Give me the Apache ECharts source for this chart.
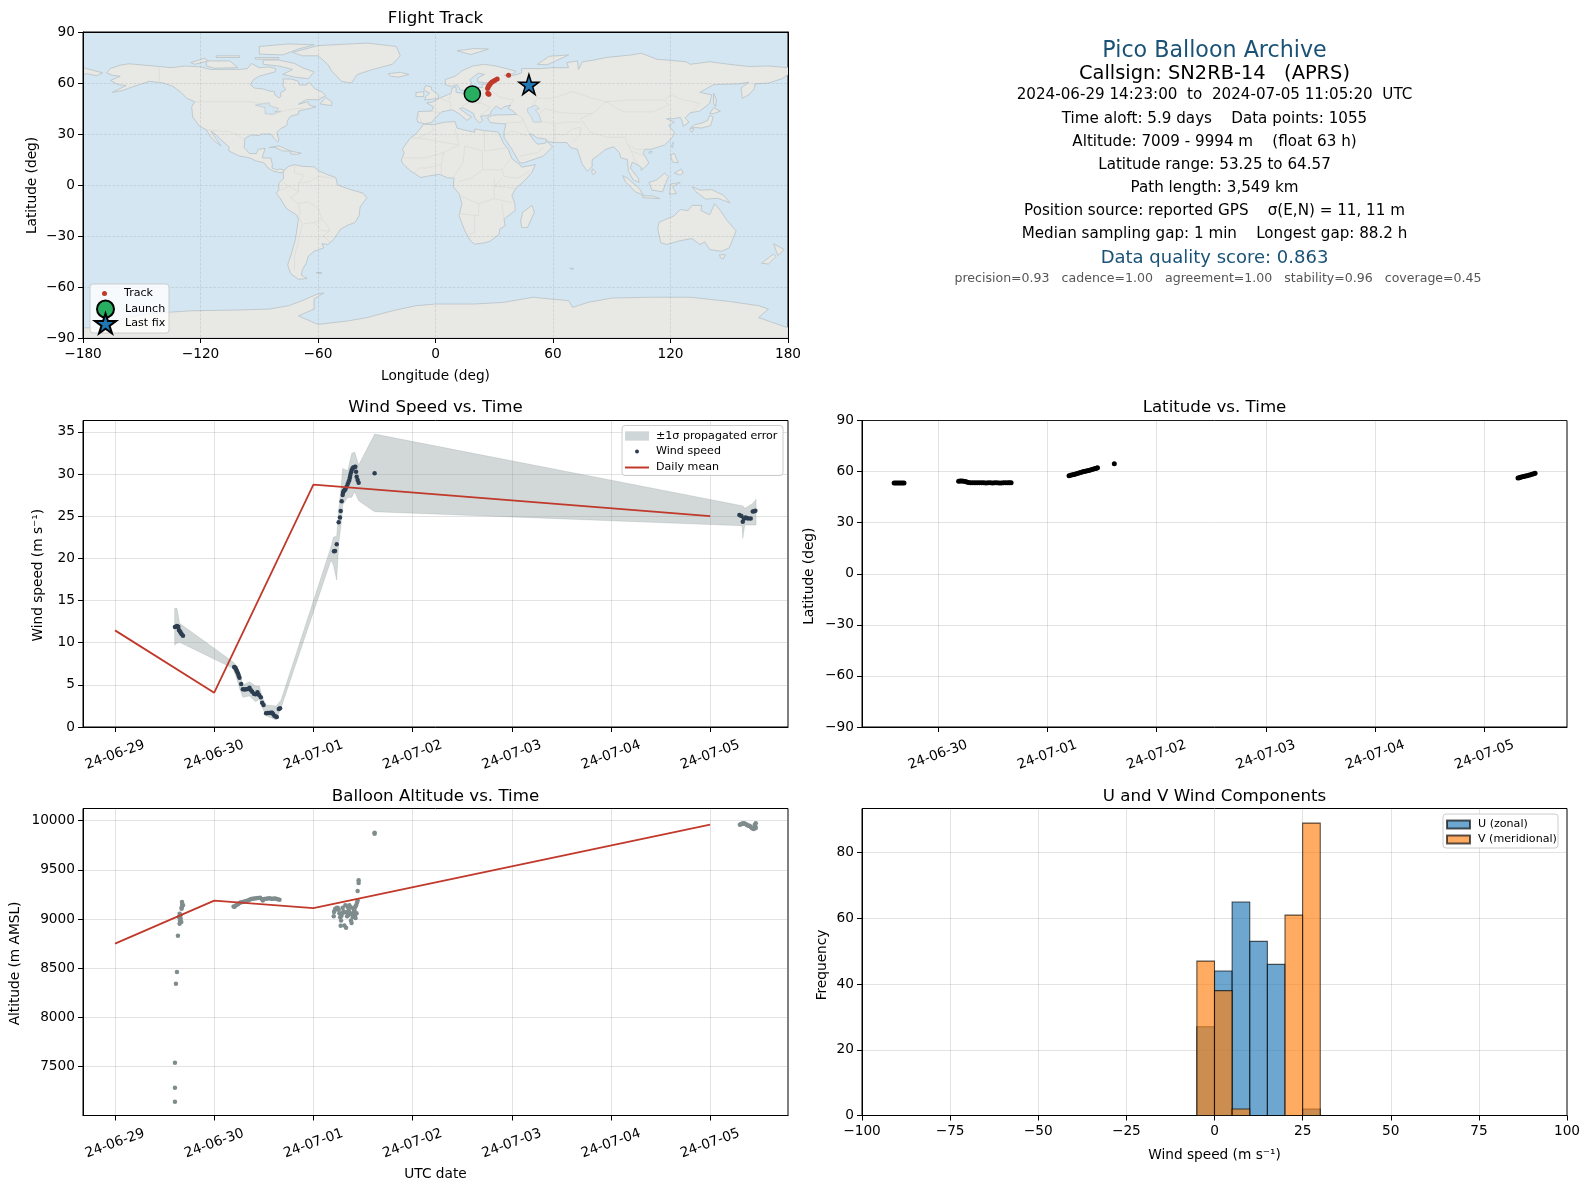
<!DOCTYPE html>
<html><head><meta charset="utf-8">
<style>html,body{margin:0;padding:0;background:#fff}#c{width:1590px;height:1189px}</style>
<script src="https://cdn.jsdelivr.net/npm/echarts@6/dist/echarts.min.js"></script>
</head><body><div id="c"></div>
<script>
// ---------- values ----------
const dayLabels = ['24-06-29','24-06-30','24-07-01','24-07-02','24-07-03','24-07-04','24-07-05'];
const dayTicks = [0,1,2,3,4,5,6];
const lonTicks = [-180,-120,-60,0,60,120,180];
const latTicks = [-90,-60,-30,0,30,60,90];
const windTicks = [0,5,10,15,20,25,30,35];
const altTicks = [7500,8000,8500,9000,9500,10000];
const histXTicks = [-100,-75,-50,-25,0,25,50,75,100];
const histYTicks = [0,20,40,60,80];

const trackPoints = [[27,53.5],[26.7,53.9],[27.3,53.4],[26.6,56.8],[26.9,57.6],[27.2,58.4],[27.6,59],[28.1,59.7],[28.7,60.4],[29.5,61],[30.4,61.6],[31.5,62.3],[37.3,64.57],[46.5,56.5],[47,57.5]];
const launchPoint = [18.8,53.6];
const lastFixPoint = [47.7,59.1];

const windPoints = [[.604,11.86],[.614,11.9],[.624,11.97],[.638,11.9],[.644,11.5],[.653,11.35],[.661,11.2],[.672,11.0],[.685,10.83],
[1.201,7.11],[1.208,7.05],[1.215,7.0],[1.222,6.8],[1.228,6.64],[1.235,6.45],[1.242,6.28],[1.248,6.05],[1.255,5.85],[1.272,5.1],[1.289,4.47],[1.305,4.45],[1.322,4.47],[1.34,4.5],[1.356,4.66],[1.37,4.35],[1.383,4.19],[1.4,3.95],[1.416,3.87],[1.436,4.11],[1.452,3.8],[1.47,3.52],[1.483,2.88],[1.497,2.61],[1.523,1.62],[1.54,1.65],[1.557,1.66],[1.571,1.7],[1.584,1.7],[1.595,1.5],[1.607,1.34],[1.62,1.25],[1.631,1.19],[1.651,2.13],[1.664,2.21],
[2.208,20.83],[2.218,20.87],[2.235,21.66],[2.255,24.27],[2.268,24.86],[2.275,25.61],[2.285,26.76],[2.295,27.51],[2.3,27.8],[2.305,27.98],[2.314,28.1],[2.322,28.18],[2.335,28.5],[2.346,28.81],[2.355,29.1],[2.362,29.29],[2.368,29.6],[2.372,29.88],[2.38,30.2],[2.386,30.47],[2.395,30.7],[2.403,30.79],[2.415,30.85],[2.423,30.87],[2.43,30.28],[2.436,29.68],[2.446,29.29],[2.456,28.97],[2.617,30.08],
[6.295,25.14],[6.315,25.02],[6.329,24.35],[6.34,24.7],[6.356,24.86],[6.37,24.8],[6.383,24.74],[6.409,24.74],[6.43,25.57],[6.445,25.6],[6.456,25.65]];
const bandDays = [.601,.624,.651,1.188,1.221,1.255,1.289,1.356,1.416,1.456,1.483,1.523,1.624,1.674,2.178,2.201,2.235,2.255,2.279,2.295,2.346,2.386,2.416,2.456,2.617,6.322,6.329,6.349,6.43,6.463];
const bandHigh = [14.07,14.07,12.29,7.75,7.35,6.36,4.98,5.38,4.86,4.86,3.6,2.61,2.49,3.2,21.38,22.49,22.65,25.73,28.5,30.67,30.4,32.45,32.6,31.07,34.74,26.24,26.24,25.93,26.52,27.0];
const bandLow = [9.72,9.92,10.04,6.96,5.97,4.58,3.52,3.68,3.0,3.28,2.33,1.34,.83,2.29,19.8,19.2,17.43,21.78,23.95,26.32,27.23,27.23,27.9,26.84,25.53,23.87,22.37,23.95,23.95,23.95];
const meanWind = [[0,11.46],[1,4.07],[2,28.74],[6,25.0]];

const latPoints = [[.6,53.35],[.615,53.3],[.63,53.3],[.645,53.3],[.66,53.35],[.675,53.3],[.69,53.3],
[1.19,54.3],[1.205,54.4],[1.22,54.4],[1.235,54.3],[1.25,54.2],[1.265,53.9],[1.28,53.6],[1.3,53.5],[1.32,53.45],[1.34,53.4],[1.36,53.4],[1.38,53.4],[1.4,53.4],[1.42,53.4],[1.44,53.35],[1.46,53.4],[1.48,53.4],[1.5,53.35],[1.52,53.4],[1.54,53.4],[1.56,53.35],[1.58,53.35],[1.6,53.4],[1.62,53.4],[1.64,53.4],[1.655,53.4],[1.67,53.4],
[2.2,57.6],[2.215,57.9],[2.23,58.1],[2.245,58.35],[2.26,58.6],[2.275,58.9],[2.29,59.2],[2.305,59.45],[2.32,59.7],[2.335,60],[2.35,60.2],[2.365,60.45],[2.38,60.7],[2.395,61],[2.41,61.2],[2.425,61.5],[2.44,61.8],[2.45,62],[2.46,62.2],[2.614,64.57],
[6.307,56.2],[6.32,56.45],[6.33,56.7],[6.345,56.9],[6.36,57.1],[6.375,57.35],[6.39,57.6],[6.405,57.9],[6.42,58.2],[6.435,58.45],[6.45,58.7],[6.463,59.05]];

const altPoints = [[.604,7144],[.604,7287],[.604,7541],[.614,8343],[.624,8462],[.634,8831],[.651,8953],[.668,8970],[.661,9004],[.644,9021],[.651,9055],[.671,9106],[.685,9140],[.675,9173],[.66,9040],[.672,9120],[.655,8985],[.678,9150],
[1.195,9129],[1.205,9125],[1.221,9140],[1.24,9150],[1.255,9163],[1.27,9170],[1.289,9173],[1.305,9180],[1.322,9184],[1.34,9190],[1.356,9197],[1.372,9203],[1.389,9207],[1.405,9210],[1.423,9211],[1.44,9215],[1.463,9218],[1.478,9205],[1.49,9190],[1.505,9205],[1.523,9207],[1.54,9210],[1.557,9211],[1.575,9207],[1.591,9207],[1.608,9209],[1.624,9207],[1.64,9202],[1.658,9197],
[2.208,9072],[2.205,9028],[2.215,9090],[2.221,9106],[2.235,9112],[2.245,9116],[2.255,9095],[2.262,9060],[2.27,9020],[2.279,8987],[2.275,8933],[2.283,9035],[2.295,9116],[2.3,9065],[2.303,9080],[2.312,8936],[2.329,8913],[2.322,9140],[2.332,9070],[2.34,9030],[2.346,9123],[2.35,9038],[2.355,9090],[2.362,9140],[2.372,9060],[2.375,9120],[2.379,8987],[2.385,8960],[2.39,9050],[2.396,9021],[2.4,9110],[2.405,9070],[2.413,9089],[2.418,9040],[2.42,9120],[2.425,9010],[2.43,9140],[2.435,9060],[2.44,9165],[2.446,9190],[2.446,9285],[2.456,9394],[2.456,9367],[2.617,9878],[2.617,9868],
[6.3,9960],[6.31,9965],[6.32,9970],[6.33,9972],[6.34,9975],[6.35,9970],[6.36,9965],[6.37,9958],[6.38,9950],[6.39,9948],[6.4,9945],[6.41,9935],[6.42,9925],[6.43,9920],[6.44,9915],[6.45,9960],[6.455,9940],[6.46,9975],[6.46,9925]];
const meanAlt = [[0,8750],[1,9187],[2,9112],[6,9960]];

const histEdges = [-5,0,5,10,15,20,25,30];
const uCounts = [27,44,65,53,46,0,2];
const vCounts = [47,38,2,0,0,61,89];

const infoLines = [
 ['Pico Balloon Archive','head'],['Callsign: SN2RB-14   (APRS)','call'],
 ['2024-06-29 14:23:00  to  2024-07-05 11:05:20  UTC','body'],['Time aloft: 5.9 days    Data points: 1055','body'],
 ['Altitude: 7009 - 9994 m    (float 63 h)','body'],['Latitude range: 53.25 to 64.57','body'],['Path length: 3,549 km','body'],
 ['Position source: reported GPS    σ(E,N) = 11, 11 m','body'],['Median sampling gap: 1 min    Longest gap: 88.2 h','body'],
 ['Data quality score: 0.863','score'],['precision=0.93   cadence=1.00   agreement=1.00   stability=0.96   coverage=0.45','small']];
const infoY = [51.7,74.3,95.5,118.8,141.8,164.8,187.8,211.2,234.2,258.2,279];

// basemap outlines, lon/lat
const landPolys = [
[[-166,68.5],[-161,70.5],[-156.5,71.3],[-141,69.7],[-135,69],[-128,70],[-120,69.5],[-115,68],[-108,68],[-100,68],[-96,68.5],[-94,71.5],[-90,69],[-85,69.5],[-81.5,68.5],[-82,66.5],[-87,65],[-90,64],[-93,62],[-94.5,59],[-92.5,57],[-88,56.5],[-85,55.3],[-82.3,55],[-82,53],[-80,51.3],[-79,52],[-79,54.5],[-76.5,56],[-78,58.7],[-77.5,60.5],[-78,62.4],[-73.5,62.3],[-70,61],[-69.5,58.8],[-66,58.8],[-64.5,60.3],[-61.5,56.5],[-58,54.8],[-56,52.5],[-60,50.2],[-66,50.2],[-70,47.5],[-65,49],[-64.5,47],[-61,46],[-66,44.5],[-70,43.5],[-70,41.7],[-74,40.5],[-75.5,38],[-76,35],[-79,33.2],[-81,31],[-80,26.5],[-80.5,25.2],[-82.5,27.5],[-84,30],[-89,30],[-90,29],[-94,29.5],[-97.3,27.5],[-97.7,22],[-95,18.5],[-91.5,18.5],[-90.5,21],[-87,21.5],[-88,18],[-88.5,16],[-84,15.8],[-83.3,12],[-83.5,10],[-81,8.8],[-79.5,9.5],[-77.3,8.7],[-77.8,7.3],[-80,7.3],[-83,8.2],[-85.5,10],[-87.5,13],[-92,14.3],[-95,16],[-100,17],[-105.5,20],[-105.5,22.5],[-109,26],[-112.5,30],[-114.7,31.7],[-112,27],[-109.5,23],[-112,25],[-115,28.5],[-117,32.5],[-120.5,34.5],[-124,40],[-124.5,46],[-123,49],[-127,51],[-130,54.5],[-134,58],[-139,60],[-146,61],[-150,59.5],[-154,58],[-160,55.5],[-165,54.5],[-158,58.5],[-162,59],[-166,61.5],[-161,64],[-165,64.5],[-168,66]],
[[-77.3,8.7],[-75,11],[-72,12],[-68,11],[-62,10.7],[-60,8.5],[-55,6],[-51,4.5],[-50,0],[-44,-2.5],[-37,-4.8],[-35,-7.5],[-38.5,-13],[-39,-18],[-41,-22],[-45,-23.7],[-48.5,-26],[-52,-32],[-55,-35],[-58,-34.5],[-57,-37],[-62,-39],[-65,-42],[-66,-46],[-68,-50],[-68.5,-53],[-65.5,-55],[-70,-55.5],[-74,-52],[-75.5,-47],[-73.5,-40],[-71.5,-32],[-70,-20],[-71,-17.5],[-76,-14],[-79.5,-7.5],[-81.3,-5],[-80,-2.5],[-80,1],[-77.5,4],[-77.8,7.3]],
[[-6,35.8],[-1,35.5],[5,37],[10,37.3],[11,33.5],[15,32.3],[20,31],[20,33],[25,32],[32,31.2],[32.5,30],[35,24],[37.2,21],[39,15.5],[43,12],[44,10.5],[51,12],[49,7],[45,2],[41,-2],[39,-6],[40.5,-11],[40.7,-15],[35,-20],[35.5,-24],[32.8,-26],[32.5,-29],[28,-33],[25,-34],[20,-34.8],[18,-33],[15,-27],[12,-18],[13.5,-11],[12,-5],[9,-1],[9.5,4],[6,4.3],[2,6.3],[-4,5.2],[-7.5,4.4],[-13,8.5],[-16.7,12.5],[-17.5,14.7],[-16,19],[-17,21],[-13,27.5],[-10,30]],
[[-5.5,36],[-9,37],[-9.5,38.8],[-8.8,43.2],[-2,43.5],[-1,46],[-4.5,48.3],[-1.5,48.8],[2,51],[4,52],[8,54],[8.5,57],[10.5,57.7],[10.5,54.5],[14,54],[19,54.5],[21,55.5],[21.5,57.5],[24,57.3],[23.5,59.2],[28,59.5],[30,60],[25,60.2],[21.5,60.7],[21.5,63],[25,65],[22,65.8],[17.5,62],[18.5,60],[16.5,57],[14,55.5],[12.7,56],[11,59],[8,58],[5,59],[5,62],[10,64],[14,67.5],[19,70],[25,71],[31,70],[41,67],[40,65.5],[35,64.5],[37.5,64],[40.5,64.7],[44,66],[44,68.5],[54,68.5],[60,69],[68,69],[67,72],[72.5,73],[73,68],[75,72.5],[81,73.5],[87,75],[100,76.5],[105,77.5],[113,74],[128,72.5],[130,71],[140,72.5],[150,71],[160,69.7],[170,70],[180,69],[180,65],[177,62.5],[170,60],[163,59.5],[163,57],[160,53],[156.7,51],[156,57],[160,60.5],[155,59.5],[142,59],[135,54.5],[141,53],[140,48],[135,43.5],[130,42.5],[127.5,39.5],[129.4,37],[126.5,34.5],[126,37.5],[125,39.7],[121.5,39],[118,39],[122,37],[119,35],[122,31],[121,28],[117,23.5],[110,21],[107,21],[106,19],[109,13],[107,10.5],[105,8.7],[105,10.5],[102,12.5],[100.5,13.5],[99.5,10],[103.5,4],[104,1.5],[101,3],[98.5,8],[98,15],[94.5,16],[94,19],[91,22.5],[87,21],[82,16.5],[80,15],[80,11],[77.5,8],[75,12],[73,19],[72.5,21],[69,22],[67,25],[61.5,25],[57,25.5],[56.5,27],[52,27.7],[49,30],[48,30],[50,26.5],[52,24],[56,24.5],[56.5,26],[59.8,22.5],[55,17],[45,13],[43,13],[39,21],[35,28],[35,31.5],[36,36],[32,36.2],[28,36.7],[26.5,39.5],[29,41],[31.5,41.2],[36,41.3],[41.5,41.5],[39,44],[37,45.2],[38.5,47],[35,46],[33.5,44.5],[31,46.5],[28.5,43.5],[28,41.5],[26,40.8],[23,40.5],[24,38],[22.5,36.5],[20,39.5],[19.5,42],[14,45.5],[12.3,45],[16,41.8],[18.4,40],[16,38],[12,42],[8.5,44.3],[3,43],[0,39.5],[-2,36.8]],
[[-180,69],[-175,67.5],[-170,66],[-173,64.3],[-178,65.5],[-180,65]],
[[-73,78],[-60,82],[-35,83.5],[-20,81.5],[-18,76],[-22,71],[-32,68],[-40,65],[-43,60],[-48,61],[-53,67],[-55,71],[-60,76],[-68,76]],
[[-80,73.5],[-72,71.5],[-68,69],[-62,66.5],[-65,62.5],[-72,63.5],[-78,65],[-73,68],[-80,70],[-88,71],[-88,73.5]],
[[-117,73],[-105,73],[-101,69],[-113,68.7],[-117,70]],
[[-90,77],[-78,76.5],[-70,80],[-62,82.5],[-75,83],[-90,81.5]],
[[-125,72],[-118,74.5],[-116,73],[-123,71]],[[-92,75],[-80,75],[-80,74],[-92,74]],[[-112,76],[-100,76],[-100,75],[-112,75]],
[[-59,47.7],[-53,46.7],[-53,49],[-56,51.5]],
[[-5.5,50],[1.5,51],[1.5,53],[-2,56],[-2,57.6],[-5,58.5],[-6,56],[-3,54],[-5,52]],[[-10,52],[-6,52],[-6,55],[-10,54.3]],
[[-24,65.5],[-18,66.3],[-13.5,65],[-19,63.4],[-23,64]],[[11,79],[20,80.3],[27,80],[18,76.7]],[[52,71],[57,70.7],[68,76.5],[58,75.7]],
[[49.3,-12],[50.5,-16],[47,-25],[44,-25],[43.5,-21],[44.5,-16]],[[80,9.5],[82,7.5],[80.5,6],[79.8,7.5]],
[[130.5,34],[136,33.5],[140.5,35],[141.8,40],[140,41],[139,38],[136,36.5],[132,35.3]],[[140,42],[142,45.5],[145.5,43.5],[142,42]],[[130,33.5],[132,33],[131,31],[130,32]],
[[142,54],[143.5,50],[143,46],[142,48]],[[120.2,23],[121.5,25.2],[121,22]],[[108.7,19.2],[110.5,20],[110,18.3]],
[[120,18],[122,18.5],[124,13],[121,13.5]],[[122,7],[125.5,9.5],[126.5,7],[125,5.8]],
[[95.5,5.5],[98,4],[104,-2],[106,-5.8],[102,-4],[97,2]],[[105.5,-6.3],[111,-6.5],[114.5,-8],[106,-7.5]],
[[109,1.5],[113,3],[117,7],[119,5],[117.5,1],[116,-4],[110.5,-3]],[[119.5,-5.5],[120,.5],[125,1.5],[121,-1],[123,-5]],
[[131,-1],[135,-3],[141,-2.7],[147,-6],[150.5,-10.5],[144,-7.8],[138,-8.3],[133,-4]],
[[114,-22],[122,-18],[125,-14.5],[129,-15],[131,-12],[136,-12],[135.5,-15],[140,-17.5],[142.5,-11],[145.5,-15],[149,-21],[153.5,-27],[150,-37],[146,-39],[140,-38],[137.5,-33.5],[135,-35],[131,-31.5],[124,-33],[118,-35],[115,-34],[113.5,-26]],
[[145,-41],[148,-41],[147,-43.5],[145.5,-42.8]],[[172.7,-34.5],[178,-38],[175,-41.5],[174,-39]],[[172.5,-40.7],[174,-42],[170,-46.5],[166.5,-46]],
[[-85,22],[-80,23],[-74,20],[-78,20],[-82,22.2]],[[-74,20],[-68.5,18.7],[-71,18],[-74,18.3]],[[-61,-51.5],[-58,-51.5],[-59,-52.3]],[[68.5,-49],[70.5,-49],[70,-49.8]],
[[-180,-90],[-180,-84],[-170,-84],[-158,-78],[-145,-75.5],[-125,-74],[-100,-73.5],[-85,-73],[-75,-71],[-68,-68],[-60,-64],[-57,-63.5],[-62,-67],[-62,-73],[-70,-77],[-60,-82],[-45,-80],[-35,-78],[-22,-74],[-10,-71],[0,-70],[20,-70],[35,-69],[50,-66],[58,-67],[68,-68],[70,-72],[78,-69],[90,-66.5],[110,-66],[130,-66],[150,-68.5],[165,-71],[170,-73],[165,-78],[180,-84],[180,-90]]
];
const waterPolys = [
[[47,45],[51,47],[53,45],[51,44],[53,41],[54,37],[50,37],[49,40],[47,43]],
[[-92,47],[-85,48.5],[-84.5,46.5],[-80,45],[-82,43],[-79,43.5],[-83,41.5],[-87,42],[-87,45.5]]
];
const borderLines = [
[[-123,49],[-95,49],[-89,48],[-83,46],[-82.5,42],[-76,44],[-71,45],[-67,45]],[[-141,69.7],[-141,60]],[[-117,32.5],[-108,31.5],[-106,31.7],[-101,29.5],[-97.3,26]],
[[-51.6,4],[-60,5],[-64,2],[-70,1],[-70,-4],[-74,-7.5],[-70,-11],[-65,-10],[-60,-13.5],[-58,-20],[-55,-24],[-54,-27],[-57.5,-30],[-53.5,-33.7]],
[[-70,-18],[-68,-23],[-70,-33],[-72,-42],[-72,-50]],[[-72,12],[-72,7],[-67,6],[-70,1]],[[-78,1.5],[-70,-4]],[[-80.3,-3.5],[-75,-1]],[[-70,-11],[-69,-17],[-70,-18]],[[-68,-23],[-62,-22],[-58,-20]],[[-62,-22],[-58,-27],[-54,-27]],
[[-8.7,27.7],[-1,32],[-2,35]],[[-13,27.7],[-8.7,27.7],[12,23.5],[10,33]],[[25,32],[25,20],[37,22]],[[-16.5,16],[-5,16],[4,19],[12,23.5]],[[4,19],[3,12],[3,6.5]],[[15,23],[14,13],[9,4.5]],[[24,20],[24,9],[34,9],[35,5],[42,4],[48,8]],[[34,9],[38,15]],[[24,9],[18,4],[12,2]],[[30,4],[30,-8],[22,-11],[12,-6]],[[41,-2],[34,-1],[30,-1],[34,4]],[[30,-8],[39,-10.5]],[[22,-11],[22,-18],[12,-17]],[[20,-18],[20,-28],[17,-29]],[[34,-11],[35,-20]],[[-11,7],[-8,10],[-5,10],[3,12]],[[15,23],[24,20]],
[[28,60],[28,56],[32,52],[40,50],[38,47]],[[49,46],[52,51],[60,51],[70,55],[80,51],[87,49],[98,50],[107,50],[117,50],[120,53],[127,50],[135,48],[131,43]],[[87,49],[80,42],[74,39],[79,31],[88,28],[97,28],[98,24],[102,21],[107,21]],[[74,34],[74,30],[70,25]],[[61,25],[61,36],[54,37.5]],[[48,30],[46,35],[44.5,39.5]],[[36,36.5],[44,37],[44.5,39.5],[41.5,41.5]],[[53,42],[56,45],[62,43],[70,42],[80,42]],[[87,49],[96,43],[111,43],[119,47],[117,50]],[[35,29.5],[39,32],[47,29]],[[43,17],[52,19],[55,22]],[[2,51],[8,48.5],[7.5,44]],[[14,54],[15,51],[17,48.5],[24,48],[28,45.5]],[[24,54],[24,50.5],[22,48]],[[-1.8,43.4],[3,42.5]],[[-9,42],[-7,37]],[[13.5,46.5],[17,48.5]],[[28,45.5],[23,41]],[[8,54.8],[7,50]],[[98,24],[100,20],[102,14],[105,10.5]],[[100,20],[107,17]],[[61,36],[66,37],[74,37]],[[61,30],[66,29.5],[70,33],[74,34]]
];

// ---------- styling and assembly ----------
const FONT = 'DejaVu Sans';
const RED = '#c0392b', NAVY = '#2c3e50', SLATE = '#7f8c8d', HEAD = '#1a5276';
const starIcon = 'path://M50 0 L61.2 34.5 L97.6 34.5 L68.2 55.9 L79.4 90.5 L50 69.1 L20.6 90.5 L31.8 55.9 L2.4 34.5 L38.8 34.5 Z';
const GRIDS = [
 {left:83,top:32,width:705,height:306},{left:83,top:420.5,width:705,height:306.5},{left:862,top:420.5,width:705,height:306.5},
 {left:83,top:808.5,width:705,height:307},{left:862,top:808.5,width:705,height:307}
].map(g=>({...g,show:true,borderColor:'#000',borderWidth:1,backgroundColor:'transparent',containLabel:false}));
GRIDS[0].backgroundColor='#d4e6f1';

const grey='rgba(128,128,128,0.22)';
function baseAxis(ticks,extra){
  const shift=(extra.shiftName||0);
  delete extra.shiftName;
  return Object.assign({type:'value',
    axisLine:{show:true,onZero:false,lineStyle:{color:'#000',width:1}},
    axisTick:{show:true,length:5,inside:false,lineStyle:{color:'#000',width:1},customValues:ticks},
    axisLabel:{color:'#000',fontFamily:FONT,fontSize:13.7,margin:9,customValues:ticks,hideOverlap:false,showMinLabel:true,showMaxLabel:true,
      formatter:v=>String(v).replace('-','\u2212')},
    splitLine:{show:true,lineStyle:{color:grey,width:1}},
    nameLocation:'middle',nameMoveOverlap:false,
    nameTextStyle:{color:'#000',fontFamily:FONT,fontSize:13.7,padding:shift?[0,shift*2,0,0]:0}},extra);
}
function timeAxis(gridIndex,min,max,ticks,name){
  const a=baseAxis(ticks,{gridIndex,min,max,name:name||'',nameGap:52});
  a.axisLabel.rotate=20;a.axisLabel.align='center';a.axisLabel.verticalAlign='middle';a.axisLabel.margin=28;
  a.axisLabel.formatter=v=>dayLabels[Math.round(v)];
  return a;
}
function yAxisOf(ticks,extra){
  const a=baseAxis(ticks,extra);
  a.axisLabel.margin=8;a.axisLabel.padding=[2,0,0,0];
  return a;
}
const xAxes=[
 baseAxis(lonTicks,{gridIndex:0,min:-180,max:180,name:'Longitude (deg)',nameGap:31}),
 timeAxis(1,-0.323,6.785,dayTicks),
 timeAxis(2,0.306,6.755,dayTicks.slice(1)),
 timeAxis(3,-0.323,6.785,dayTicks,'UTC date'),
 baseAxis(histXTicks,{gridIndex:4,min:-100,max:100,name:'Wind speed (m s\u207b\u00b9)',nameGap:33}),
 {type:'value',gridIndex:0,min:-180,max:180,position:'top',axisLine:{show:true,onZero:false,lineStyle:{color:'#000'}},axisTick:{show:false},axisLabel:{show:false},splitLine:{show:false},z:4}
];
xAxes[0].z=1;xAxes[0].splitLine.lineStyle={color:'rgba(110,120,125,0.25)',width:0.7,type:'dashed'};
const yAxes=[
 yAxisOf(latTicks,{gridIndex:0,min:-90,max:90,name:'Latitude (deg)',nameGap:44,shiftName:0.5}),
 yAxisOf(windTicks,{gridIndex:1,min:0,max:36.35,name:'Wind speed (m s\u207b\u00b9)',nameGap:38,shiftName:1.5}),
 yAxisOf(latTicks,{gridIndex:2,min:-90,max:90,name:'Latitude (deg)',nameGap:46,shiftName:2.5}),
 yAxisOf(altTicks,{gridIndex:3,min:7004,max:10124,name:'Altitude (m AMSL)',nameGap:61,shiftName:1.5}),
 yAxisOf(histYTicks,{gridIndex:4,min:0,max:93.45,name:'Frequency',nameGap:33,shiftName:3}),
 {type:'value',gridIndex:0,min:-90,max:90,position:'right',axisLine:{show:true,onZero:false,lineStyle:{color:'#000'}},axisTick:{show:false},axisLabel:{show:false},splitLine:{show:false},z:4}
];
yAxes[0].z=1;yAxes[0].splitLine.lineStyle={color:'rgba(110,120,125,0.25)',width:0.7,type:'dashed'};

function polySeries(list,fill,stroke,lw,closed,name){
  return {type:'custom',name,xAxisIndex:0,yAxisIndex:0,z:0,silent:true,clip:true,data:[[0,0]],encode:{x:0,y:1},
    renderItem:(p,api)=>({type:'group',children:list.map(poly=>({
      type:closed?'polygon':'polyline',
      shape:{points:poly.map(c=>api.coord(c))},
      style:{fill:closed?fill:null,stroke,lineWidth:lw}}))})
  };
}
function histSeries(name,counts,color,z){
  const rows=counts.map((c,i)=>[histEdges[i],histEdges[i+1],c]).filter(r=>r[2]>0);
  return {type:'custom',name,xAxisIndex:4,yAxisIndex:4,z,clip:true,data:rows,encode:{x:[0,1],y:2},
    itemStyle:{color,opacity:.65,borderColor:'#000',borderWidth:1.1},
    renderItem:(p,api)=>{
      const a=api.coord([api.value(0),api.value(2)]),b=api.coord([api.value(1),0]);
      return {type:'rect',shape:{x:a[0],y:a[1],width:b[0]-a[0],height:b[1]-a[1]},
        style:{fill:color,stroke:'#000',lineWidth:1.1,opacity:.65}};
    }};
}
const series=[
 polySeries(landPolys,'#e8e8e4','#b7c1c6',0.8,true,'land'),
 polySeries(waterPolys,'#d4e6f1','#b7c1c6',0.6,true,'water'),
 polySeries(borderLines,null,'#d6d8d4',0.6,false,'borders'),
 {type:'scatter',name:'Track',xAxisIndex:0,yAxisIndex:0,z:3,symbolSize:5,data:trackPoints,itemStyle:{color:RED,opacity:1}},
 {type:'scatter',name:'Launch',xAxisIndex:0,yAxisIndex:0,z:4,symbolSize:16,data:[launchPoint],itemStyle:{color:'#27ae60',borderColor:'#000',borderWidth:1.5,opacity:1}},
 {type:'scatter',name:'Last fix',xAxisIndex:0,yAxisIndex:0,z:5,symbol:starIcon,symbolSize:20,data:[lastFixPoint],itemStyle:{color:'#1f77b4',borderColor:'#000',borderWidth:1.5,opacity:1}},
 {type:'custom',name:'\u00b11\u03c3 propagated error',xAxisIndex:1,yAxisIndex:1,z:1,silent:true,clip:true,data:[[2,20]],encode:{x:0,y:1},
  itemStyle:{color:'#cfd6d8'},
  renderItem:(p,api)=>{
    const up=bandDays.map((d,i)=>api.coord([d,bandHigh[i]]));
    const dn=bandDays.map((d,i)=>api.coord([d,bandLow[i]])).reverse();
    return {type:'polygon',shape:{points:up.concat(dn)},style:{fill:'rgba(127,140,141,0.35)',stroke:'rgba(127,140,141,0.2)',lineWidth:1}};
  }},
 {type:'scatter',name:'Wind speed',xAxisIndex:1,yAxisIndex:1,z:3,symbolSize:4.5,data:windPoints,itemStyle:{color:NAVY,opacity:1}},
 {type:'line',name:'Daily mean',xAxisIndex:1,yAxisIndex:1,z:4,showSymbol:false,data:meanWind,lineStyle:{color:RED,width:1.8},itemStyle:{color:RED}},
 {type:'scatter',name:'lat',xAxisIndex:2,yAxisIndex:2,z:3,symbolSize:5,data:latPoints,itemStyle:{color:'#000',opacity:1}},
 {type:'scatter',name:'alt',xAxisIndex:3,yAxisIndex:3,z:3,symbolSize:4.5,data:altPoints,itemStyle:{color:SLATE,opacity:1}},
 {type:'line',name:'altmean',xAxisIndex:3,yAxisIndex:3,z:4,showSymbol:false,data:meanAlt,lineStyle:{color:RED,width:1.8},itemStyle:{color:RED}},
 histSeries('U (zonal)',uCounts,'#1f77b4',3),
 histSeries('V (meridional)',vCounts,'#ff7f0e',4)
];
function leg(name,left,top,w,h,icon,pad){
  return {show:true,z:20,selectedMode:false,orient:'vertical',left,top,padding:0,itemWidth:w,itemHeight:h,itemGap:0,
    textStyle:{color:'#000',fontFamily:FONT,fontSize:11.1,padding:[0,0,0,pad||0]},data:[{name,icon}]};
}
const legends=[
 leg('Track',102,288,29,5,'circle'),
 leg('Launch',96,299.5,29,17,'circle'),
 leg('Last fix',94,312.5,29,20,starIcon),
 leg('\u00b11\u03c3 propagated error',625,430.5,24,9.3,'rect',2),
 leg('Wind speed',635,446,24,4,'circle',2),
 leg('Daily mean',625,462,24,2,'rect',2),
 leg('U (zonal)',1446,819,23,8,'rect',3),
 leg('V (meridional)',1446,834,23,8,'rect',3)
];
function box(x,y,w,h){return {type:'rect',z:10,x,y,shape:{x:0,y:0,width:w,height:h,r:3},style:{fill:'rgba(255,255,255,0.8)',stroke:'#ccc',lineWidth:1},silent:true};}
const titles=[];
function addText(text,left,top,size,color){titles.push({text,left,top,padding:0,textAlign:'center',textVerticalAlign:'middle',textStyle:{color,fontFamily:FONT,fontSize:size,fontWeight:'normal'}});}
addText('Flight Track',435.5,19,16.67,'#000');addText('Wind Speed vs. Time',435.5,407.5,16.67,'#000');
addText('Latitude vs. Time',1214.5,407.5,16.67,'#000');addText('Balloon Altitude vs. Time',435.5,796.5,16.67,'#000');
addText('U and V Wind Components',1214.5,796.5,16.67,'#000');
const styles={head:[22.2,HEAD,1214.5],call:[19.4,'#000',1214.5],body:[15.15,'#000',1214.5],score:[18,HEAD,1214.5],small:[12.57,'#555',1218]};
infoLines.forEach((l,i)=>addText(l[0],styles[l[1]][2],infoY[i],styles[l[1]][0],styles[l[1]][1]));

const chart=echarts.init(document.getElementById('c'),null,{renderer:'canvas'});
chart.setOption({animation:false,backgroundColor:'#fff',textStyle:{fontFamily:FONT},tooltip:{show:false},
  title:titles,grid:GRIDS,xAxis:xAxes,yAxis:yAxes,series,legend:legends,
  graphic:[box(90,284,79,49),box(622,425.5,161,50),box(1443,814,115,34)]});
</script></body></html>
